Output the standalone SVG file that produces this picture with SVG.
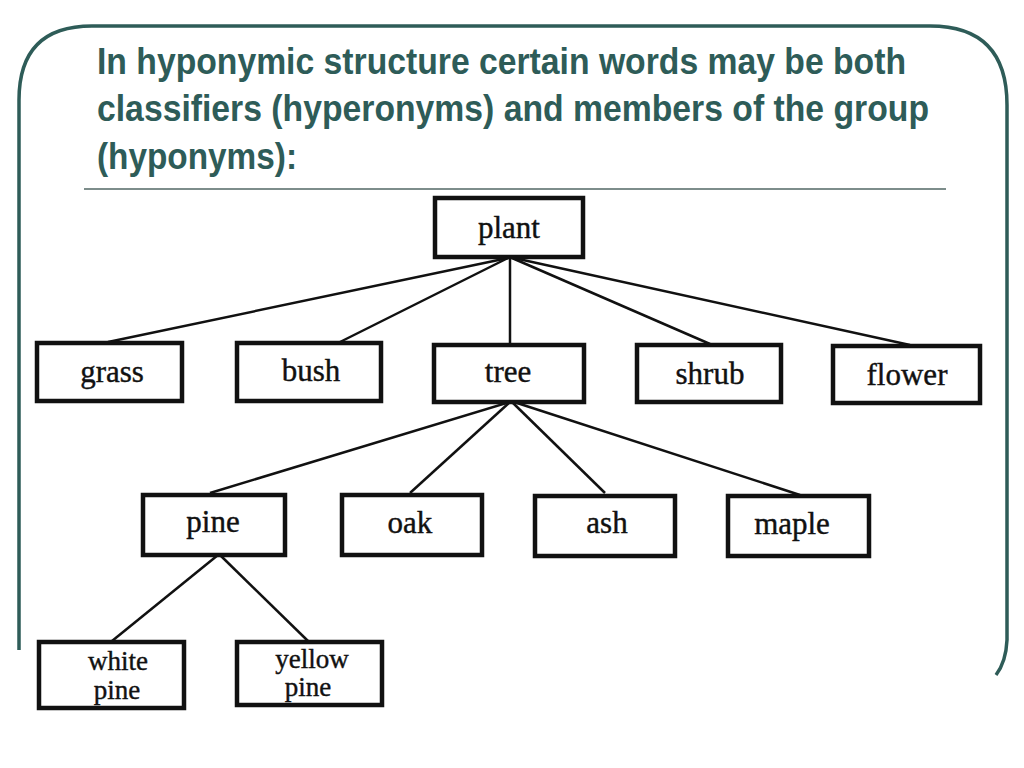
<svg xmlns="http://www.w3.org/2000/svg" width="1024" height="768" viewBox="0 0 1024 768">
<style>
.frame{fill:none;stroke:#2e5c58;stroke-width:3.5}
.title{font-family:"Liberation Sans",Arial,sans-serif;font-weight:bold;font-size:37px;fill:#2e5c58}
.box{fill:#fff;stroke:#111;stroke-width:4.5}
.lbl{font-family:"Liberation Serif","Times New Roman",serif;font-size:31px;fill:#111;stroke:#111;stroke-width:0.4;text-anchor:middle}
.lbl2{font-size:27px}
.edge{stroke:#111;stroke-width:2.5;fill:none}
</style>
<rect width="1024" height="768" fill="#fff"/>
<path class="frame" d="M19,650 L19,100 Q19,26 92,26 L930,26 Q1007,26 1007,105 L1007,640 Q1006,662 996,675"/>
<text class="title" x="97" y="74" textLength="809" lengthAdjust="spacingAndGlyphs">In hyponymic structure certain words may be both</text>
<text class="title" x="97" y="121" textLength="832" lengthAdjust="spacingAndGlyphs">classifiers (hyperonyms) and members of the group</text>
<text class="title" x="97" y="169" textLength="200" lengthAdjust="spacingAndGlyphs">(hyponyms):</text>
<line x1="84" y1="189" x2="946" y2="189" stroke="#7d8d8b" stroke-width="2"/>
<g id="connectors">
<line class="edge" x1="508" y1="258" x2="108" y2="342"/>
<line class="edge" x1="508" y1="258" x2="340" y2="342"/>
<line class="edge" x1="510" y1="258" x2="510" y2="344"/>
<line class="edge" x1="512" y1="258" x2="710" y2="344"/>
<line class="edge" x1="514" y1="258" x2="910" y2="345"/>
<line class="edge" x1="510" y1="402" x2="210" y2="493"/>
<line class="edge" x1="510" y1="402" x2="410" y2="493"/>
<line class="edge" x1="512" y1="402" x2="605" y2="493"/>
<line class="edge" x1="514" y1="402" x2="800" y2="495"/>
<line class="edge" x1="218" y1="555" x2="112" y2="641"/>
<line class="edge" x1="220" y1="555" x2="308" y2="641"/>
</g>
<g id="plant"><rect class="box" x="435" y="198" width="148" height="59"/><text class="lbl" x="509" y="238">plant</text></g>
<g id="grass"><rect class="box" x="37" y="343" width="145" height="58"/><text class="lbl" x="112" y="382">grass</text></g>
<g id="bush"><rect class="box" x="237" y="343" width="144" height="58"/><text class="lbl" x="311" y="381">bush</text></g>
<g id="tree"><rect class="box" x="434" y="345" width="150" height="57"/><text class="lbl" x="508" y="382">tree</text></g>
<g id="shrub"><rect class="box" x="637" y="345" width="144" height="57"/><text class="lbl" x="710" y="384">shrub</text></g>
<g id="flower"><rect class="box" x="833" y="346" width="147" height="57"/><text class="lbl" x="907" y="385">flower</text></g>
<g id="pine"><rect class="box" x="143" y="495" width="142" height="60"/><text class="lbl" x="213" y="532">pine</text></g>
<g id="oak"><rect class="box" x="342" y="495" width="140" height="60"/><text class="lbl" x="410" y="533">oak</text></g>
<g id="ash"><rect class="box" x="535" y="496" width="140" height="60"/><text class="lbl" x="607" y="533">ash</text></g>
<g id="maple"><rect class="box" x="728" y="496" width="141" height="60"/><text class="lbl" x="792" y="534">maple</text></g>
<g id="white-pine"><rect class="box" x="39" y="642" width="145" height="66"/><text class="lbl lbl2" x="118" y="670">white</text><text class="lbl lbl2" x="117" y="699">pine</text></g>
<g id="yellow-pine"><rect class="box" x="237" y="642" width="145" height="63"/><text class="lbl lbl2" x="312" y="668">yellow</text><text class="lbl lbl2" x="308" y="696">pine</text></g>
</svg>
